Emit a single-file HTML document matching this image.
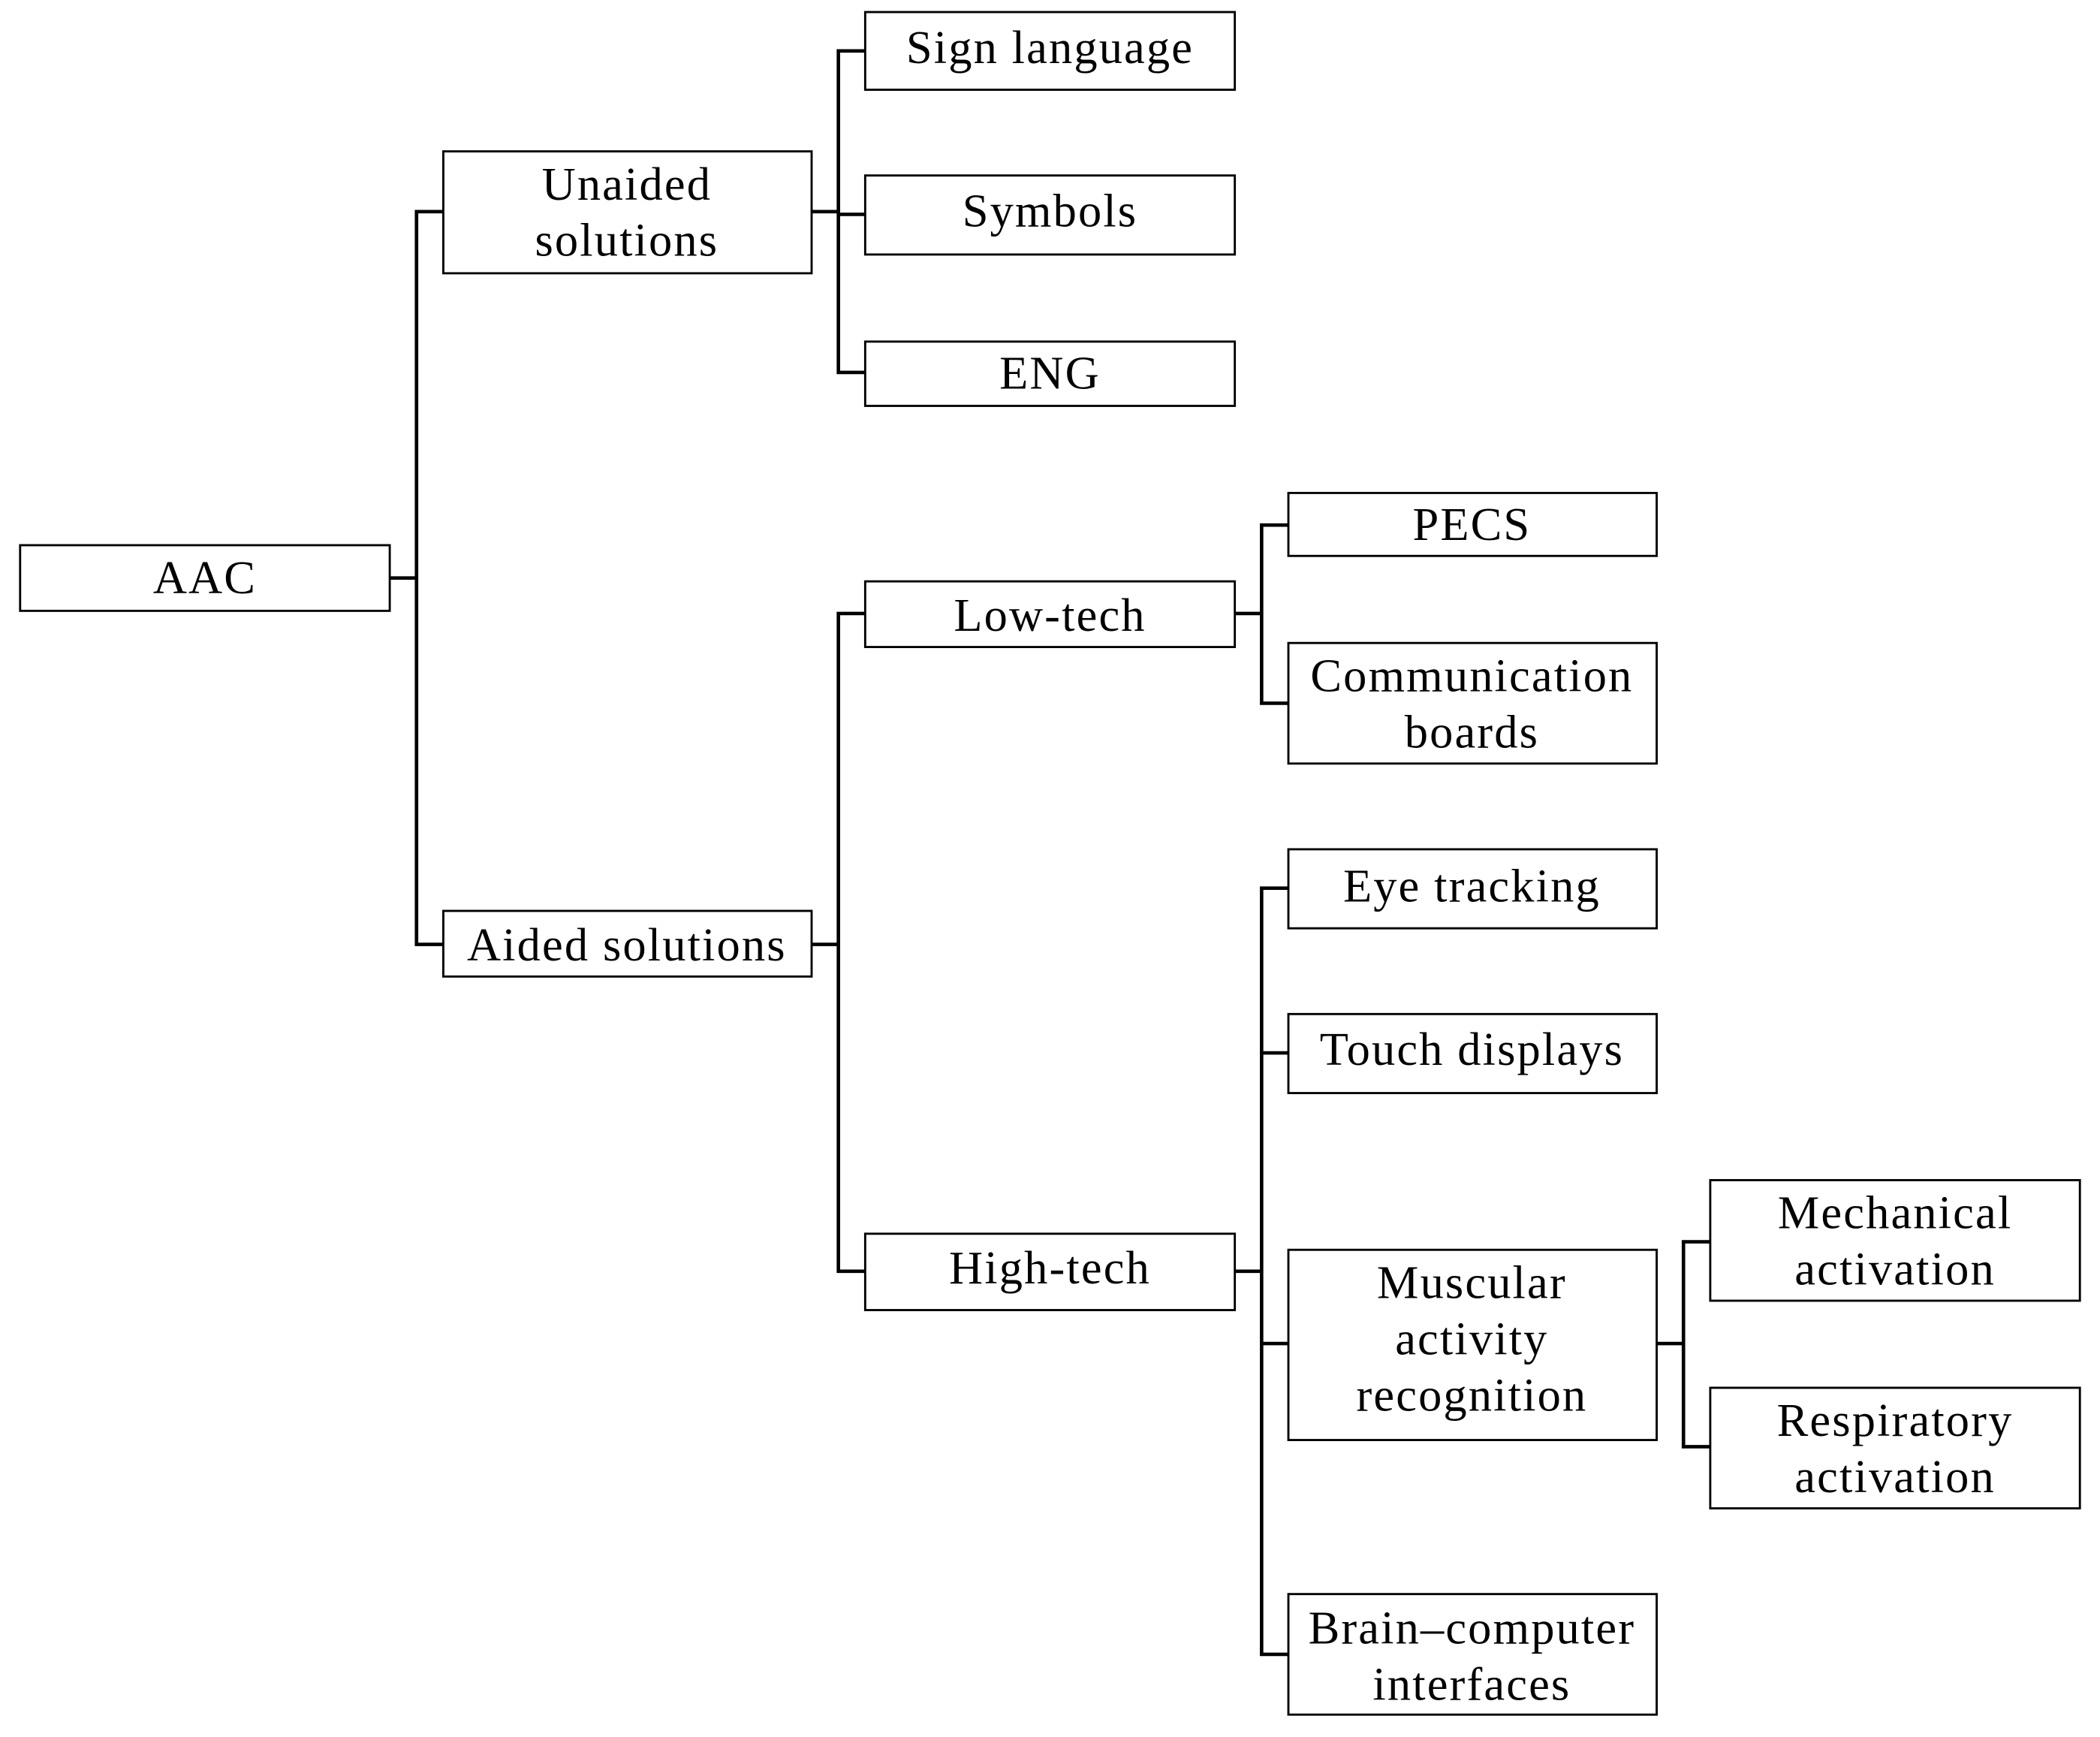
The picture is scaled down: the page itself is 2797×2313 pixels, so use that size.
<!DOCTYPE html>
<html><head><meta charset="utf-8"><style>html,body{margin:0;padding:0;background:#fff}svg{display:block}</style></head>
<body>
<svg width="2797" height="2313" viewBox="0 0 1568 1296.7" xmlns="http://www.w3.org/2000/svg">
<g fill="none" stroke="#000" stroke-width="2.6" stroke-linecap="square">
<path d="M291 431.5H311M311 158V705M311 158H331M311 705H331"/>
<path d="M606 158H626M626 38V278M626 38H646M626 160H646M626 278H646"/>
<path d="M606 705H626M626 458V949M626 458H646M626 949H646"/>
<path d="M922 458H942M942 392V525M942 392H962M942 525H962"/>
<path d="M922 949H942M942 663V1235M942 663H962M942 786H962M942 1003H962M942 1235H962"/>
<path d="M1237 1003H1257M1257 927V1080M1257 927H1277M1257 1080H1277"/>
</g>
<g fill="#fff" stroke="#000" stroke-width="1.6">
<rect x="15" y="407" width="276" height="49"/>
<rect x="331" y="113" width="275" height="91"/>
<rect x="331" y="680" width="275" height="49"/>
<rect x="646" y="9" width="276" height="58"/>
<rect x="646" y="131" width="276" height="59"/>
<rect x="646" y="255" width="276" height="48"/>
<rect x="646" y="434" width="276" height="49"/>
<rect x="646" y="921" width="276" height="57"/>
<rect x="962" y="368" width="275" height="47"/>
<rect x="962" y="480" width="275" height="90"/>
<rect x="962" y="634" width="275" height="59"/>
<rect x="962" y="757" width="275" height="59"/>
<rect x="962" y="933" width="275" height="142"/>
<rect x="962" y="1190" width="275" height="90"/>
<rect x="1277" y="881" width="276" height="90"/>
<rect x="1277" y="1036" width="276" height="90"/>
</g>
<g font-family="'Liberation Serif',serif" font-size="35" letter-spacing="1.2" text-anchor="middle" fill="#000">
<text x="153" y="443">AAC</text>
<text x="468" y="149">Unaided</text><text x="468" y="191">solutions</text>
<text x="468" y="717">Aided solutions</text>
<text x="784" y="47">Sign language</text>
<text x="784" y="169">Symbols</text>
<text x="784" y="290">ENG</text>
<text x="784" y="471">Low-tech</text>
<text x="784" y="958">High-tech</text>
<text x="1099" y="403">PECS</text>
<text x="1099" y="516">Communication</text><text x="1099" y="558">boards</text>
<text x="1099" y="673">Eye tracking</text>
<text x="1099" y="795">Touch displays</text>
<text x="1099" y="969">Muscular</text><text x="1099" y="1011">activity</text><text x="1099" y="1053">recognition</text>
<text x="1099" y="1227">Brain–computer</text><text x="1099" y="1269">interfaces</text>
<text x="1415" y="917">Mechanical</text><text x="1415" y="959">activation</text>
<text x="1415" y="1072">Respiratory</text><text x="1415" y="1114">activation</text>
</g>
</svg>
</body></html>
